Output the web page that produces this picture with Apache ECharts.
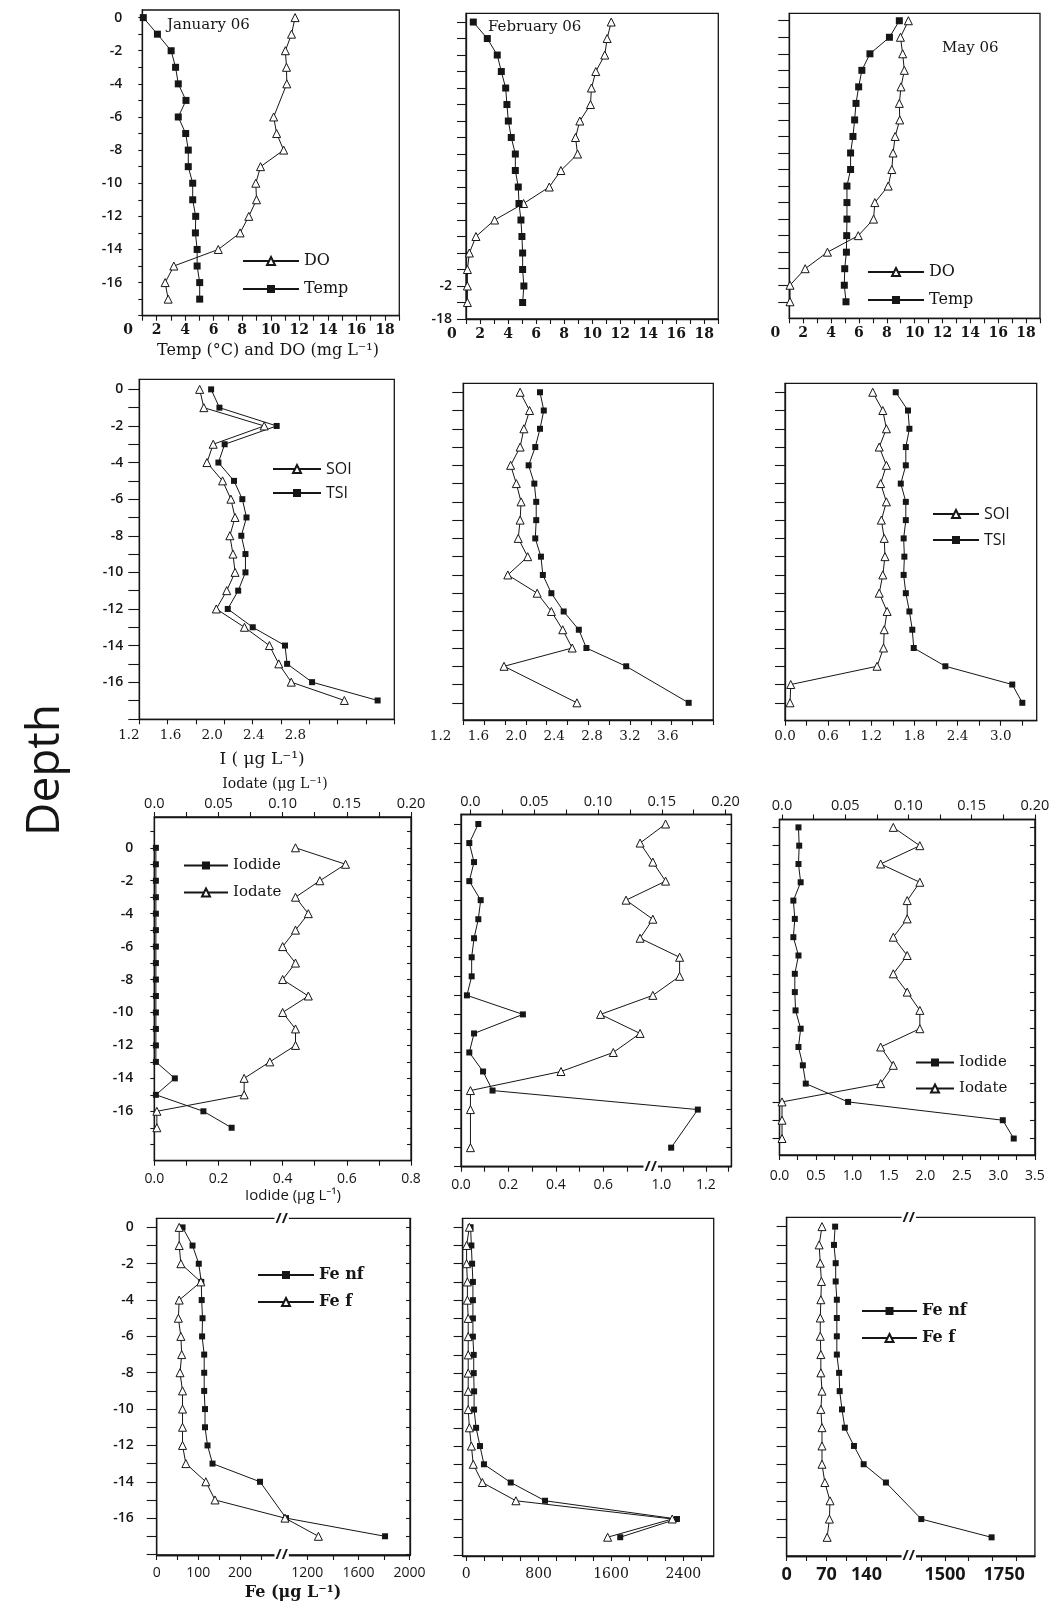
<!DOCTYPE html>
<html><head><meta charset="utf-8">
<script src="https://cdn.jsdelivr.net/npm/echarts@6/dist/echarts.min.js"></script>
<style>html,body{margin:0;padding:0;background:#fff}#c{width:1060px;height:1605px}</style>
</head><body><div id="c"></div>
<script>
// ---------------- data ----------------
const depth = [0,-1,-2,-3,-4,-5,-6,-7,-8,-9,-10,-11,-12,-13,-14,-15,-16,-17];

// Row 1: temperature (°C) and dissolved oxygen (mg/L)
const janTemp = [1.07,2.06,3.02,3.33,3.52,4.06,3.52,4.04,4.22,4.22,4.53,4.53,4.74,4.72,4.84,4.84,5.02,5.02];
const janDO   = [11.7,11.45,11.02,11.1,11.12,null,10.2,10.41,10.9,9.28,8.95,9.0,8.46,7.85,6.32,3.21,2.6,2.81];
const febTemp = [1.52,2.52,3.23,3.52,3.83,3.92,4.02,4.23,4.52,4.52,4.73,4.78,4.92,4.99,5.04,5.04,5.13,5.04];
const febDO   = [11.36,11.07,10.9,10.26,9.95,9.88,9.12,8.81,8.96,7.77,6.94,5.11,3.04,1.71,1.24,1.1,1.1,1.1];
const mayTemp = [8.9,8.19,6.79,6.21,5.98,5.79,5.69,5.57,5.4,5.4,5.14,5.14,5.14,5.12,5.1,4.98,4.95,5.07];
const mayDO   = [9.55,8.98,9.14,9.26,9.02,8.9,8.93,8.6,8.45,8.36,8.1,7.14,7.05,5.95,3.74,2.14,1.05,1.05];

// Row 2: SOI and TSI (µg/L)
const janSOI = [1.88,1.92,2.50,2.01,1.95,2.10,2.18,2.22,2.17,2.20,2.22,2.14,2.04,2.31,2.55,2.64,2.76,3.27];
const janTSI = [1.99,2.07,2.62,2.12,2.06,2.21,2.29,2.33,2.28,2.32,2.32,2.25,2.15,2.39,2.70,2.72,2.96,3.59];
const febSOI = [2.04,2.14,2.08,2.04,1.94,2.00,2.05,2.04,2.02,2.12,1.91,2.22,2.37,2.49,2.59,1.87,null,2.64];
const febTSI = [2.25,2.29,2.25,2.20,2.13,2.19,2.21,2.21,2.20,2.26,2.28,2.37,2.50,2.66,2.74,3.16,null,3.82];
const maySOI = [1.22,1.36,1.41,1.31,1.41,1.33,1.41,1.34,1.38,1.39,1.36,1.31,1.42,1.38,1.37,1.28,0.08,0.07];
const mayTSI = [1.54,1.71,1.73,1.68,1.68,1.61,1.68,1.68,1.65,1.66,1.65,1.68,1.73,1.77,1.79,2.23,3.16,3.30];

// Row 3: iodide (bottom axis) and iodate (top axis), µg/L
const janIodide = [0.005,0.005,0.005,0.005,0.005,0.005,0.005,0.005,0.005,0.005,0.005,0.005,0.005,0.005,0.064,0.005,0.153,0.241];
const janIodate = [0.11,0.149,0.129,0.11,0.12,0.11,0.10,0.11,0.10,0.12,0.10,0.11,0.11,0.09,0.07,0.07,0.002,0.002];
const febIodide = [0.073,0.035,0.055,0.035,0.083,0.073,0.055,0.045,0.045,0.025,0.261,0.055,0.035,0.093,0.133,1.164,null,1.044];
const febIodate = [0.153,0.133,0.143,0.153,0.122,0.143,0.133,0.164,0.164,0.143,0.102,0.133,0.112,0.071,0,0,null,0];
const mayIodide = [0.26,0.27,0.26,0.29,0.19,0.21,0.19,0.26,0.21,0.21,0.22,0.29,0.26,0.32,0.36,0.94,3.06,3.21];
const mayIodate = [0.088,0.109,0.078,0.109,0.099,0.099,0.088,0.099,0.088,0.099,0.109,0.109,0.078,0.088,0.078,0,0,0];

// Row 4: Fe non-filtered / filtered (µg/L)
const janFeNF = [62,86,101,107,108,110,109,114,114,114,116,116,122,134,248,null,1034,1808];
const janFeF  = [54,54,58,106,54,52,58,60,56,62,62,62,62,70,118,140,1026,1287];
const febFeNF = [48,57,65,74,74,74,74,83,83,87,87,109,152,196,492,871,2329,1702];
const febFeF  = [35,4,4,13,13,22,22,22,22,22,22,35,57,78,178,549,2277,1563];
const mayFeNF = [85,83,86,86,88,88,88,88,92,93,97,102,118,135,174,null,1400,1697];
const mayFeF  = [62,57,59,61,60,59,59,60,60,62,60,62,62,62,67,76,75,71];

// tick labels
const yLabelsEven   = [0,-2,-4,-6,-8,-10,-12,-14,-16];
const r1XLabels     = [0,2,4,6,8,10,12,14,16,18];
const r2JanXLabels  = [1.2,1.6,2.0,2.4,2.8];
const r2FebXLabels  = [1.2,1.6,2.0,2.4,2.8,3.2,3.6];
const r2MayXLabels  = [0,0.6,1.2,1.8,2.4,3.0];
const r3TopLabels   = [0,0.05,0.10,0.15,0.20];
const r3JanBotLabels= [0,0.2,0.4,0.6,0.8];
const r3FebBotLabels= [0,0.2,0.4,0.6,1.0,1.2];
const r3MayBotLabels= [0,0.5,1.0,1.5,2.0,2.5,3.0,3.5];
const r4JanXLabels  = [0,100,200,1200,1600,2000];
const r4FebXLabels  = [0,800,1600,2400];
const r4MayXLabels  = [0,70,140,1500,1750];

// ---------------- helpers ----------------
const INK = '#161616';
const SERIF = '"DejaVu Serif", "Liberation Serif", serif';
const SANS = '"Open Sans", "Noto Sans", "DejaVu Sans", sans-serif';
function range(a, b, s) { const o = []; const n = Math.round((b - a) / s); for (let i = 0; i <= n; i++) o.push(+(a + i * s).toFixed(6)); return o; }
function even(n, a, b) { const o = []; for (let k = 0; k <= n; k++) o.push(a + k * (b - a) / n); return o; }
const lab = (arr, f) => arr.map(v => [v, f ? f(v) : String(v)]);
const f1 = v => v.toFixed(1);
const fTop = v => v === 0 ? '0.0' : v.toFixed(2);
function lookup(list, v) { const f = list.find(l => Math.abs(l[0] - v) < 1e-6); return f ? f[1] : ''; }
const SQ = s => ({ symbol: 'rect', symbolSize: s, itemStyle: { color: INK } });
const TRI = s => ({ symbol: 'triangle', symbolSize: s, itemStyle: { color: '#fff', borderColor: INK, borderWidth: 1 } });

const option = { animation: false, backgroundColor: '#fff', grid: [], xAxis: [], yAxis: [], series: [], legend: [] };
const extras = [], bridges = [], breakMarks = [];

function buildPanel(p) {
  const gi = option.grid.length;
  const [L, T, R, B] = p.box;
  option.grid.push({ left: L, top: T, width: R - L, height: B - T, show: true, borderColor: INK, borderWidth: 1.3, backgroundColor: 'rgba(0,0,0,0)' });
  const yi = option.yAxis.length;
  const yl = p.y.labels || [];
  option.yAxis.push({
    type: 'value', gridIndex: gi, position: 'left', min: p.y.min, max: p.y.max,
    axisLine: { show: true, onZero: false, lineStyle: { color: INK, width: 1.3 } },
    axisTick: { show: true, length: p.y.tickLen, lineStyle: { color: INK, width: 1.1 }, customValues: p.y.ticks },
    axisLabel: { show: yl.length > 0, customValues: yl.map(l => l[0]), formatter: v => lookup(yl, v), margin: p.y.margin || 16,
      fontFamily: SANS, fontSize: 14, fontWeight: 600, color: INK },
    splitLine: { show: false }
  });
  if (p.y.rightTicks) {
    option.yAxis.push({
      type: 'value', gridIndex: gi, position: 'right', min: p.y.min, max: p.y.max,
      axisLine: { show: true, onZero: false, lineStyle: { color: INK, width: 1.3 } },
      axisTick: { show: true, inside: true, length: p.y.rightTicks, lineStyle: { color: INK, width: 1.1 }, customValues: p.y.ticks },
      axisLabel: { show: false }, splitLine: { show: false }
    });
  }
  const sides = {};
  ['bottom', 'top'].forEach(side => {
    const spec = p.x[side]; if (!spec) return;
    const segs = spec.segs || [{ min: spec.min, max: spec.max, from: 0, to: 1 }];
    sides[side] = segs.map(s => {
      const k = (s.max - s.min) / (s.to - s.from);
      const amin = s.min - s.from * k, amax = s.max + (1 - s.to) * k;
      const inSeg = v => v >= s.min - 1e-9 && v <= s.max + 1e-9;
      const labs = spec.labels.filter(l => inSeg(l[0]));
      const ticks = spec.ticks.filter(inSeg);
      const xi = option.xAxis.length;
      option.xAxis.push({
        type: 'value', gridIndex: gi, position: side, min: amin, max: amax,
        axisLine: { show: true, onZero: false, lineStyle: { color: INK, width: 1.3 } },
        axisTick: { show: ticks.length > 0, length: spec.tickLen || 5, lineStyle: { color: INK, width: 1.1 }, customValues: ticks },
        axisLabel: Object.assign({ show: labs.length > 0, customValues: labs.map(l => l[0]), formatter: v => lookup(labs, v), margin: spec.margin, color: INK }, spec.font),
        splitLine: { show: false }
      });
      return { xi, s, inSeg };
    });
    spec.labels.filter(l => !sides[side].some(a => a.inSeg(l[0]))).forEach(l =>
      extras.push({ xi: sides[side][0].xi, v: l[0], text: l[1], side, box: p.box, margin: spec.margin, font: spec.font }));
    if (spec.segs) segs.slice(1).forEach(s => breakMarks.push({ x: L + s.from * (R - L), ys: spec.markYs || [B] }));
  });
  p.series.forEach(sd => {
    const axes = sides[sd.side || 'bottom'];
    const pts = [];
    sd.values.forEach((v, i) => {
      if (v == null) return;
      const si = axes.findIndex(a => a.inSeg(v));
      if (si < 0) return;
      pts.push({ v, d: depth[i], si });
    });
    axes.forEach((a, k) => {
      const data = pts.filter(q => q.si === k).map(q => [q.v, q.d]);
      if (!data.length) return;
      option.series.push(Object.assign({
        type: 'line', name: sd.name, xAxisIndex: a.xi, yAxisIndex: yi, data,
        lineStyle: { color: INK, width: 1 }, clip: false, z: sd.z || 2, emphasis: { disabled: true }
      }, sd.style));
    });
    for (let j = 1; j < pts.length; j++) {
      if (pts[j].si !== pts[j - 1].si) {
        bridges.push({ a: { xi: axes[pts[j - 1].si].xi, yi, v: pts[j - 1].v, d: pts[j - 1].d },
                       b: { xi: axes[pts[j].si].xi, yi, v: pts[j].v, d: pts[j].d } });
      }
    }
  });
  if (p.legend) {
    option.legend.push(Object.assign({
      orient: 'vertical', selectedMode: false, padding: 0, itemHeight: 10
    }, p.legend));
  }
}

const r1X = { min: 1, max: 19, ticks: range(1, 19, 1), labels: lab(r1XLabels), tickLen: 5, margin: 8,
  font: { fontFamily: SERIF, fontSize: 14, fontWeight: 'bold' } };
const serifLeg = (sz, w) => ({ fontFamily: SERIF, fontSize: sz, fontWeight: w || 'normal', color: INK });
const topFont = { fontFamily: SANS, fontSize: 14.5 };

const panels = [
  // Row 1
  { box: [142.3, 10, 399.3, 315.7],
    y: { min: -18, max: 0.46, ticks: range(-18, 0, 1), labels: lab(yLabelsEven), tickLen: 4, margin: 20 },
    x: { bottom: r1X },
    series: [{ name: 'DO', values: janDO, style: TRI(8) }, { name: 'Temp', values: janTemp, style: SQ(7) }],
    legend: { left: 242, top: 253, itemWidth: 56, itemGap: 12, data: ['DO', 'Temp'], textStyle: serifLeg(16) } },
  { box: [466, 13.3, 718.3, 319],
    y: { min: -18, max: 0.53, ticks: range(-18, 0, 1), labels: [[-16, '-2'], [-18, '-18']], tickLen: 9, margin: 14 },
    x: { bottom: r1X },
    series: [{ name: 'DO', values: febDO, style: TRI(8) }, { name: 'Temp', values: febTemp, style: SQ(7) }] },
  { box: [789.3, 13.3, 1040, 318.3],
    y: { min: -18, max: 0.45, ticks: range(-17, 0, 1), tickLen: 11 },
    x: { bottom: r1X },
    series: [{ name: 'DO', values: mayDO, style: TRI(8) }, { name: 'Temp', values: mayTemp, style: SQ(7) }],
    legend: { left: 867, top: 264, itemWidth: 56, itemGap: 12, data: ['DO', 'Temp'], textStyle: serifLeg(16) } },
  // Row 2
  { box: [139.3, 379.3, 394.3, 719.3],
    y: { min: -18.03, max: 0.55, ticks: range(-18, 0, 1), labels: lab(yLabelsEven), tickLen: 11, margin: 16 },
    x: { bottom: { min: 1.3, max: 3.75, ticks: even(9, 1.3, 3.75), labels: lab(r2JanXLabels, f1), tickLen: 5, margin: 9,
      font: { fontFamily: SERIF, fontSize: 13.5 } } },
    series: [{ name: 'SOI', values: janSOI, style: TRI(8) }, { name: 'TSI', values: janTSI, style: SQ(6) }],
    legend: { left: 272, top: 461, itemWidth: 48, itemGap: 8, data: ['SOI', 'TSI'],
      textStyle: { fontFamily: SANS, fontSize: 16, color: INK } } },
  { box: [463.3, 383.3, 713.3, 720],
    y: { min: -17.94, max: 0.49, ticks: range(-17, 0, 1), tickLen: 11 },
    x: { bottom: { min: 1.44, max: 4.08, ticks: even(12, 1.44, 4.08), labels: lab(r2FebXLabels, f1), tickLen: 5, margin: 9,
      font: { fontFamily: SERIF, fontSize: 13.5 } } },
    series: [{ name: 'SOI', values: febSOI, style: TRI(8) }, { name: 'TSI', values: febTSI, style: SQ(6) }] },
  { box: [785, 383.3, 1036.7, 720.7],
    y: { min: -17.98, max: 0.49, ticks: range(-17, 0, 1), tickLen: 10 },
    x: { bottom: { min: 0, max: 3.5, ticks: range(0, 3.3, 0.3), labels: lab(r2MayXLabels, f1), tickLen: 5, margin: 9,
      font: { fontFamily: SERIF, fontSize: 13.5 } } },
    series: [{ name: 'SOI', values: maySOI, style: TRI(8) }, { name: 'TSI', values: mayTSI, style: SQ(6) }],
    legend: { left: 932, top: 506, itemWidth: 46, itemGap: 10, data: ['SOI', 'TSI'],
      textStyle: { fontFamily: SANS, fontSize: 16, color: INK } } },
  // Row 3
  { box: [154.3, 817, 411, 1160.7],
    y: { min: -19, max: 1.87, ticks: range(-18, 1, 1), labels: lab(yLabelsEven), tickLen: 4, margin: 21, rightTicks: 4 },
    x: { top: { min: 0, max: 0.2, ticks: range(0, 0.2, 0.025), labels: lab(r3TopLabels, fTop), tickLen: 5, margin: 6, font: topFont },
         bottom: { min: 0, max: 0.8, ticks: range(0, 0.8, 0.1), labels: lab(r3JanBotLabels, f1), tickLen: 5, margin: 11,
           font: { fontFamily: SANS, fontSize: 14 } } },
    series: [{ name: 'Iodide', values: janIodide, style: SQ(6), side: 'bottom' },
             { name: 'Iodate', values: janIodate, style: TRI(8), side: 'top' }],
    legend: { left: 183, top: 858, itemWidth: 44, itemGap: 12, data: ['Iodide', 'Iodate'], textStyle: serifLeg(15) } },
  { box: [461, 814.5, 731.4, 1166.7],
    y: { min: -18, max: 0.5, ticks: range(-18, 0, 1), tickLen: 7, rightTicks: 5 },
    x: { top: { min: -0.0074, max: 0.2046, ticks: range(0, 0.2, 0.025), labels: lab(r3TopLabels, fTop), tickLen: 5, margin: 5, font: topFont },
         bottom: { segs: [{ min: 0, max: 0.8, from: 0, to: 0.7016 }, { min: 0.952, max: 1.315, from: 0.7016, to: 1 }],
           ticks: range(0, 0.8, 0.1).concat([1.0, 1.1, 1.2, 1.3]), labels: lab(r3FebBotLabels, f1), tickLen: 5, margin: 11,
           font: { fontFamily: SANS, fontSize: 14 }, markYs: [1166.7] } },
    series: [{ name: 'Iodide', values: febIodide, style: SQ(6), side: 'bottom' },
             { name: 'Iodate', values: febIodate, style: TRI(8), side: 'top' }] },
  { box: [779.5, 819.5, 1034.9, 1155],
    y: { min: -17.9, max: 0.43, ticks: range(-17, 0, 1), tickLen: 7, rightTicks: 5 },
    x: { top: { min: -0.002, max: 0.2, ticks: range(0, 0.2, 0.025), labels: lab(r3TopLabels, fTop), tickLen: 5, margin: 6, font: topFont },
         bottom: { min: 0, max: 3.5, ticks: range(0, 3.5, 0.25), labels: lab(r3MayBotLabels, f1), tickLen: 5, margin: 14,
           font: { fontFamily: SANS, fontSize: 14 } } },
    series: [{ name: 'Iodide', values: mayIodide, style: SQ(6), side: 'bottom' },
             { name: 'Iodate', values: mayIodate, style: TRI(8), side: 'top' }],
    legend: { left: 915, top: 1055, itemWidth: 38, itemGap: 11, data: ['Iodide', 'Iodate'], textStyle: serifLeg(15) } },
  // Row 4
  { box: [156.7, 1218.3, 410, 1555],
    y: { min: -18.03, max: 0.5, ticks: range(-18, 0, 1), labels: lab(yLabelsEven), tickLen: 10, margin: 23, rightTicks: 4 },
    x: { bottom: { segs: [{ min: 0, max: 300, from: 0, to: 0.4934 }, { min: 1000, max: 2003, from: 0.4934, to: 1 }],
      ticks: range(0, 300, 50).concat(range(1200, 2000, 200)), labels: lab(r4JanXLabels), tickLen: 5, margin: 11,
      font: { fontFamily: SANS, fontSize: 14 }, markYs: [1218.3, 1555] } },
    series: [{ name: 'Fe nf', values: janFeNF, style: SQ(6) }, { name: 'Fe f', values: janFeF, style: TRI(8) }],
    legend: { left: 257, top: 1267, itemWidth: 56, itemGap: 11, data: ['Fe nf', 'Fe f'], textStyle: serifLeg(16, 'bold') } },
  { box: [462.6, 1218.3, 713.7, 1556],
    y: { min: -18.03, max: 0.49, ticks: range(-18, 0, 1), tickLen: 9 },
    x: { bottom: { min: -40, max: 2735, ticks: range(0, 2600, 200), labels: lab(r4FebXLabels), tickLen: 5, margin: 11,
      font: { fontFamily: SERIF, fontSize: 14 } } },
    series: [{ name: 'Fe nf', values: febFeNF, style: SQ(6) }, { name: 'Fe f', values: febFeF, style: TRI(8) }] },
  { box: [786.6, 1217.3, 1034.9, 1556],
    y: { min: -18.02, max: 0.51, ticks: range(-17, 0, 1), tickLen: 10 },
    x: { bottom: { segs: [{ min: 0, max: 214, from: 0, to: 0.492 }, { min: 1347, max: 1880, from: 0.492, to: 1 }],
      ticks: range(0, 210, 35).concat(range(1400, 1800, 100)), labels: lab(r4MayXLabels), tickLen: 5, margin: 10,
      font: { fontFamily: SANS, fontSize: 18, fontWeight: 'bold' }, markYs: [1217.3, 1556] } },
    series: [{ name: 'Fe nf', values: mayFeNF, style: SQ(6) }, { name: 'Fe f', values: mayFeF, style: TRI(8) }],
    legend: { left: 861, top: 1303, itemWidth: 55, itemGap: 11, data: ['Fe nf', 'Fe f'], textStyle: serifLeg(16, 'bold') } }
];
panels.forEach(buildPanel);

const chart = echarts.init(document.getElementById('c'), null, { renderer: 'canvas', width: 1060, height: 1605 });
chart.setOption(option);

// ---------------- overlay texts / bridges (positions from the chart's own scales) ----------------
const G = [];
function txt(x, y, text, st, extra) {
  G.push(Object.assign({ type: 'text', x, y, style: Object.assign({ text, fill: INK, align: 'center', verticalAlign: 'middle' }, st) }, extra || {}));
}
extras.forEach(e => {
  const x = chart.convertToPixel({ xAxisIndex: e.xi }, e.v);
  const y = e.side === 'bottom' ? e.box[3] + e.margin : e.box[1] - e.margin;
  txt(x, y, e.text, Object.assign({ verticalAlign: e.side === 'bottom' ? 'top' : 'bottom' }, e.font));
});
bridges.forEach(b => {
  const p1 = chart.convertToPixel({ xAxisIndex: b.a.xi, yAxisIndex: b.a.yi }, [b.a.v, b.a.d]);
  const p2 = chart.convertToPixel({ xAxisIndex: b.b.xi, yAxisIndex: b.b.yi }, [b.b.v, b.b.d]);
  G.push({ type: 'polyline', z: 1, shape: { points: [p1, p2] }, style: { stroke: INK, lineWidth: 1, fill: null } });
});
breakMarks.forEach(m => m.ys.forEach(y => {
  txt(m.x, y, '//', { fontFamily: SANS, fontSize: 15, fontWeight: 'bold', backgroundColor: '#fff', padding: [0, 1] }, { z: 10 });
}));
txt(167, 25, 'January 06', { fontFamily: SERIF, fontSize: 15, align: 'left' });
txt(488, 27, 'February 06', { fontFamily: SERIF, fontSize: 15, align: 'left' });
txt(942, 48, 'May 06', { fontFamily: SERIF, fontSize: 15, align: 'left' });
txt(268, 351, 'Temp (°C) and DO (mg L⁻¹)', { fontFamily: SERIF, fontSize: 16 });
txt(262, 760, 'I ( μg L⁻¹)', { fontFamily: SERIF, fontSize: 17 });
txt(275, 784, 'Iodate (μg L⁻¹)', { fontFamily: SERIF, fontSize: 14 });
txt(293, 1196, 'Iodide (μg L⁻¹)', { fontFamily: SANS, fontSize: 15 });
txt(293, 1593, 'Fe (μg L⁻¹)', { fontFamily: SERIF, fontSize: 16, fontWeight: 'bold' });
txt(46, 770, 'Depth', { fontFamily: SANS, fontSize: 46 }, { rotation: Math.PI / 2 });
chart.setOption({ graphic: { elements: G } });
</script>
</body></html>
